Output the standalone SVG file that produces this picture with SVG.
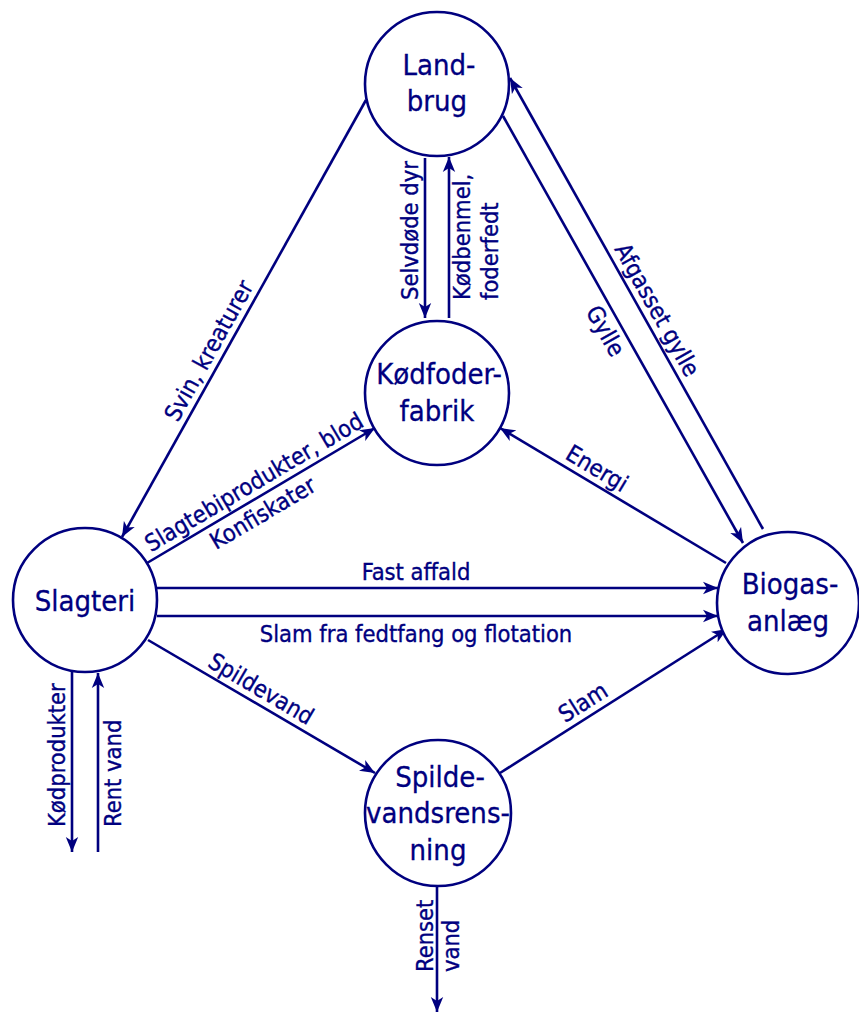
<svg xmlns="http://www.w3.org/2000/svg" width="859" height="1014" viewBox="0 0 859 1014">
  <style>
    .node circle { fill: #ffffff; stroke: #00007f; stroke-width: 2.6; }
    .node text { font-family: "DejaVu Sans Condensed", "DejaVu Sans", sans-serif; font-size: 29px; fill: #00007f; stroke: #00007f; stroke-width: 0.3; text-anchor: middle; }
    .edge line { stroke: #00007f; stroke-width: 2.6; fill: none; }
    .arr { marker-end: url(#head); }
    .lbl { font-family: "DejaVu Sans Condensed", "DejaVu Sans", sans-serif; font-size: 23.5px; fill: #00007f; stroke: #00007f; stroke-width: 0.35; text-anchor: middle; }
    .lbl.st { text-anchor: start; }
  </style>
  <defs>
    <marker id="head" markerUnits="userSpaceOnUse" markerWidth="16" markerHeight="14" refX="15" refY="7" orient="auto">
      <path d="M0,0.8 L15,7 L0,13.2 L4,7 Z" fill="#00007f"/>
    </marker>
  </defs>

  <rect width="859" height="1014" fill="#ffffff"/>

  <!-- flows between the plants -->
  <g id="connectors" class="edge">
    <line class="arr" x1="366" y1="100" x2="122" y2="537"/>
    <line class="arr" x1="425" y1="158" x2="425" y2="318"/>
    <line class="arr" x1="449" y1="318" x2="449" y2="157"/>
    <line class="arr" x1="147" y1="563" x2="375" y2="428"/>
    <line class="arr" x1="726" y1="563" x2="500" y2="428"/>
    <line class="arr" x1="503" y1="116" x2="743" y2="543"/>
    <line class="arr" x1="763" y1="529" x2="510" y2="78"/>
    <line class="arr" x1="157" y1="588" x2="718" y2="588"/>
    <line class="arr" x1="157" y1="616" x2="718" y2="616"/>
    <line class="arr" x1="148" y1="640" x2="375" y2="773"/>
    <line class="arr" x1="500" y1="773" x2="727" y2="629"/>
    <line class="arr" x1="72" y1="672" x2="72" y2="852"/>
    <line class="arr" x1="98" y1="852" x2="98" y2="673"/>
    <line class="arr" x1="437" y1="886" x2="437" y2="1012"/>

    <text class="lbl" transform="translate(222,358) rotate(-60.8)" y="-7">Svin, kreaturer</text>
    <text class="lbl st" transform="translate(418,300) rotate(-90)">Selvdøde dyr</text>
    <text class="lbl st" transform="translate(470,300) rotate(-90)">Kødbenmel,</text>
    <text class="lbl st" transform="translate(498,300) rotate(-90)">foderfedt</text>
    <text class="lbl" transform="translate(261.7,495.1) rotate(-30.6)" y="-7">Slagtebiprodukter, blod</text>
    <text class="lbl" transform="translate(254.7,499.3) rotate(-30.6)" y="24">Konfiskater</text>
    <text class="lbl" transform="translate(589.3,481.4) rotate(30.85)" y="-7">Energi</text>
    <text class="lbl" transform="translate(619.4,323.1) rotate(60.66)" y="24">Gylle</text>
    <text class="lbl" transform="translate(644.1,317.1) rotate(60.7)" y="-7">Afgasset gylle</text>
    <text class="lbl" x="416" y="580">Fast affald</text>
    <text class="lbl" x="416" y="642">Slam fra fedtfang og flotation</text>
    <text class="lbl" transform="translate(253.5,701.8) rotate(30.4)" y="-7">Spildevand</text>
    <text class="lbl" transform="translate(591,715) rotate(-32.4)" y="-7">Slam</text>
    <text class="lbl st" transform="translate(65,827) rotate(-90)">Kødprodukter</text>
    <text class="lbl st" transform="translate(121,827) rotate(-90)">Rent vand</text>
    <text class="lbl st" transform="translate(433,972) rotate(-90)">Renset</text>
    <text class="lbl st" transform="translate(459,972) rotate(-90)">vand</text>
  </g>

  <g id="landbrug" class="node">
    <circle cx="437" cy="84" r="72"/>
    <text x="439" y="75">Land-</text>
    <text x="437" y="111">brug</text>
  </g>

  <g id="koedfoderfabrik" class="node">
    <circle cx="437" cy="393" r="72"/>
    <text x="439" y="384">Kødfoder-</text>
    <text x="437" y="421">fabrik</text>
  </g>

  <g id="slagteri" class="node">
    <circle cx="85" cy="600" r="72"/>
    <text x="85" y="611">Slagteri</text>
  </g>

  <g id="biogasanlaeg" class="node">
    <circle cx="788" cy="603" r="71"/>
    <text x="790" y="594">Biogas-</text>
    <text x="788" y="631">anlæg</text>
  </g>

  <g id="spildevandsrensning" class="node">
    <circle cx="438" cy="813" r="73"/>
    <text x="440" y="787">Spilde-</text>
    <text x="438" y="823">vandsrens-</text>
    <text x="438" y="860">ning</text>
  </g>
</svg>
